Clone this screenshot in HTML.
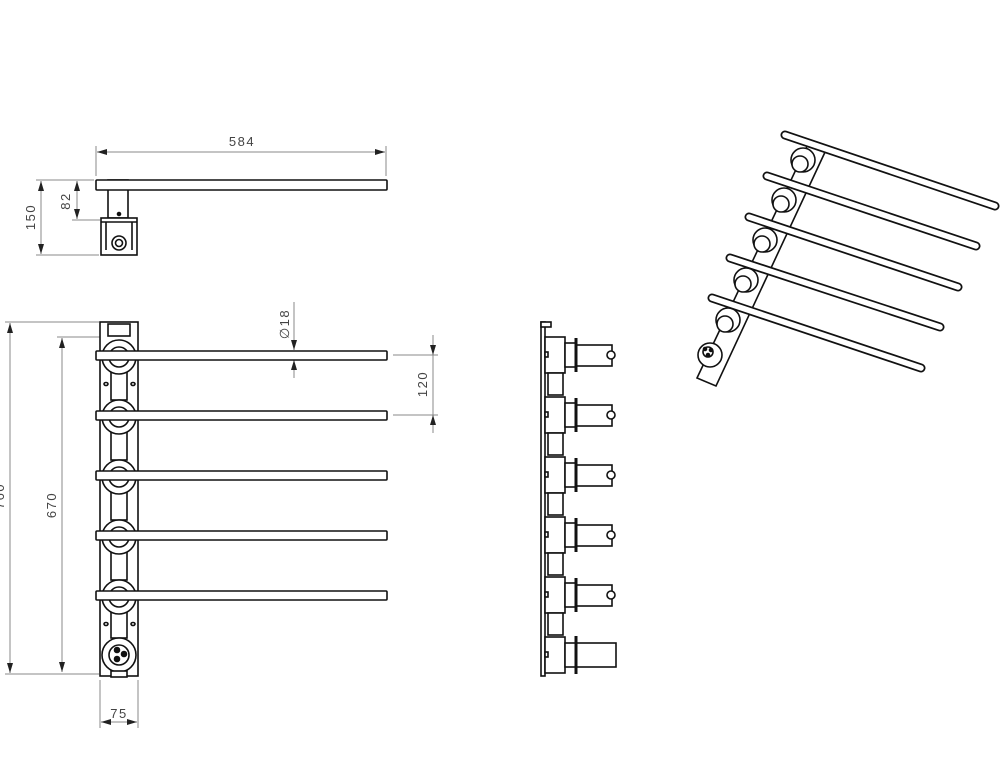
<!DOCTYPE html>
<html><head><meta charset="utf-8"><style>
html,body{margin:0;padding:0;background:#fff;}
svg{display:block;}
text{font-family:"Liberation Sans",sans-serif;font-size:13px;fill:#444;letter-spacing:1.5px;}
</style></head><body>
<svg width="1008" height="767" viewBox="0 0 1008 767" xmlns="http://www.w3.org/2000/svg">
<defs>
<marker id="a" viewBox="0 0 10 6" refX="10" refY="3" markerWidth="10" markerHeight="6" orient="auto-start-reverse" markerUnits="userSpaceOnUse"><path d="M0,0 L10,3 L0,6z" fill="#222"/></marker>
</defs>
<g stroke="#888" stroke-width="1" fill="none">
<line x1="96" y1="146" x2="96" y2="176"/><line x1="386" y1="146" x2="386" y2="176"/>
<line x1="97" y1="152" x2="385" y2="152" marker-start="url(#a)" marker-end="url(#a)"/>
<line x1="36" y1="180" x2="94" y2="180"/><line x1="36" y1="255" x2="99" y2="255"/><line x1="72" y1="220" x2="100" y2="220"/>
<line x1="41" y1="181" x2="41" y2="254" marker-start="url(#a)" marker-end="url(#a)"/>
<line x1="77" y1="181" x2="77" y2="219" marker-start="url(#a)" marker-end="url(#a)"/>
<line x1="5" y1="322" x2="99" y2="322"/><line x1="57" y1="337" x2="110" y2="337"/><line x1="5" y1="674" x2="99" y2="674"/>
<line x1="10" y1="323" x2="10" y2="673" marker-start="url(#a)" marker-end="url(#a)"/>
<line x1="62" y1="338" x2="62" y2="672" marker-start="url(#a)" marker-end="url(#a)"/>
<line x1="100" y1="680" x2="100" y2="728"/><line x1="138" y1="680" x2="138" y2="728"/>
<line x1="101" y1="722" x2="137" y2="722" marker-start="url(#a)" marker-end="url(#a)"/>
<line x1="294" y1="302" x2="294" y2="350" marker-end="url(#a)"/>
<line x1="294" y1="378" x2="294" y2="360" marker-end="url(#a)"/>
<line x1="393" y1="355" x2="438" y2="355"/><line x1="393" y1="415" x2="438" y2="415"/>
<line x1="433" y1="335" x2="433" y2="355" marker-end="url(#a)"/>
<line x1="433" y1="433" x2="433" y2="415" marker-end="url(#a)"/>
<line x1="433" y1="355" x2="433" y2="415"/>
</g>
<text x="242" y="146" text-anchor="middle">584</text>
<text transform="translate(35,217) rotate(-90)" text-anchor="middle">150</text>
<text transform="translate(70,201) rotate(-90)" text-anchor="middle">82</text>
<text transform="translate(4,496) rotate(-90)" text-anchor="middle">760</text>
<text transform="translate(56,505) rotate(-90)" text-anchor="middle">670</text>
<text x="119" y="718" text-anchor="middle">75</text>
<text transform="translate(289,324) rotate(-90)" text-anchor="middle">∅18</text>
<text transform="translate(427,384) rotate(-90)" text-anchor="middle">120</text>

<g stroke="#111" stroke-width="1.6" fill="#fff">
<rect x="108" y="180" width="20" height="38"/>
<rect x="96" y="180" width="291" height="10" rx="1"/>
<rect x="101" y="218" width="36" height="37"/>
<line x1="101" y1="222" x2="137" y2="222"/>
<line x1="106" y1="222" x2="106" y2="250"/><line x1="132" y1="222" x2="132" y2="250"/>
<circle cx="119" cy="243" r="7"/><circle cx="119" cy="243" r="3.5"/>
<circle cx="119" cy="214" r="1.5" fill="#111"/>

<rect x="100" y="322" width="38" height="354"/>
<rect x="108" y="324" width="22" height="12"/>
<g>
<rect x="111" y="370" width="16" height="30"/><rect x="111" y="430" width="16" height="30"/><rect x="111" y="490" width="16" height="30"/><rect x="111" y="550" width="16" height="30"/><rect x="111" y="610" width="16" height="28"/>
<circle cx="119" cy="357" r="17"/><circle cx="119" cy="357" r="10"/>
<circle cx="119" cy="417" r="17"/><circle cx="119" cy="417" r="10"/>
<circle cx="119" cy="477" r="17"/><circle cx="119" cy="477" r="10"/>
<circle cx="119" cy="537" r="17"/><circle cx="119" cy="537" r="10"/>
<circle cx="119" cy="597" r="17"/><circle cx="119" cy="597" r="10"/>
<circle cx="119" cy="655" r="17"/><circle cx="119" cy="655" r="10"/>
<circle cx="117" cy="650" r="2.5" fill="#111"/><circle cx="124" cy="654" r="2.5" fill="#111"/><circle cx="117" cy="659" r="2.5" fill="#111"/>
<rect x="111" y="671" width="16" height="6"/>
</g>
<rect x="96" y="351" width="291" height="9" rx="1"/>
<rect x="96" y="411" width="291" height="9" rx="1"/>
<rect x="96" y="471" width="291" height="9" rx="1"/>
<rect x="96" y="531" width="291" height="9" rx="1"/>
<rect x="96" y="591" width="291" height="9" rx="1"/>
<ellipse cx="106" cy="384" rx="2" ry="1.5"/><ellipse cx="133" cy="384" rx="2" ry="1.5"/>
<ellipse cx="106" cy="624" rx="2" ry="1.5"/><ellipse cx="133" cy="624" rx="2" ry="1.5"/>

<rect x="541" y="322" width="4" height="354"/>
<g id="u">
<rect x="545" y="337" width="20" height="36"/>
<rect x="565" y="343" width="11" height="24"/>
<rect x="576" y="345" width="36" height="21"/>
<line x1="576" y1="338" x2="576" y2="372" stroke-width="3"/>
<circle cx="611" cy="355" r="4"/>
<rect x="545" y="352" width="3" height="5"/>
<rect x="548" y="373" width="15" height="22"/>
</g>
<use href="#u" y="60"/><use href="#u" y="120"/><use href="#u" y="180"/><use href="#u" y="240"/>
<g transform="translate(0,300)">
<rect x="545" y="337" width="20" height="36"/>
<rect x="565" y="343" width="11" height="24"/>
<rect x="576" y="343" width="40" height="24"/>
<line x1="576" y1="336" x2="576" y2="374" stroke-width="3"/>
<rect x="545" y="352" width="3" height="5"/>
</g>
<rect x="541" y="322" width="10" height="5"/>

<polygon points="810,140 826,150 716,386 697,378"/>
<g>
<circle cx="803" cy="160" r="12"/><circle cx="800" cy="164" r="8"/>
<circle cx="784" cy="200" r="12"/><circle cx="781" cy="204" r="8"/>
<circle cx="765" cy="240" r="12"/><circle cx="762" cy="244" r="8"/>
<circle cx="746" cy="280" r="12"/><circle cx="743" cy="284" r="8"/>
<circle cx="728" cy="320" r="12"/><circle cx="725" cy="324" r="8"/>
<circle cx="710" cy="355" r="12"/><circle cx="708" cy="352" r="5"/>
<circle cx="705" cy="349" r="1.5" fill="#111"/><circle cx="711" cy="350" r="1.5" fill="#111"/><circle cx="708" cy="355" r="1.5" fill="#111"/>
</g>
</g>
<g stroke-linecap="round">
<g stroke="#111" stroke-width="9">
<line x1="785" y1="135" x2="995" y2="206"/>
<line x1="767" y1="176" x2="976" y2="246"/>
<line x1="749" y1="217" x2="958" y2="287"/>
<line x1="730" y1="258" x2="940" y2="327"/>
<line x1="712" y1="298" x2="921" y2="368"/>
</g>
<g stroke="#fff" stroke-width="5.5">
<line x1="785" y1="135" x2="995" y2="206"/>
<line x1="767" y1="176" x2="976" y2="246"/>
<line x1="749" y1="217" x2="958" y2="287"/>
<line x1="730" y1="258" x2="940" y2="327"/>
<line x1="712" y1="298" x2="921" y2="368"/>
</g>
</g>
</svg>
</body></html>
